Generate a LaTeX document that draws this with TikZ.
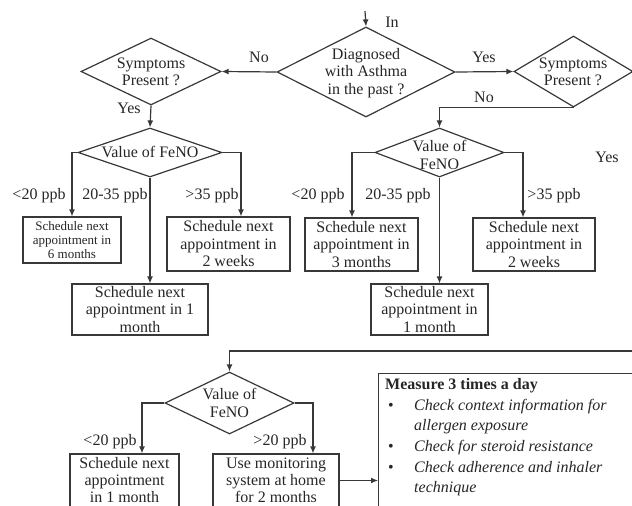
\documentclass[tikz,border=0pt]{standalone}
\usepackage{fontspec}
\setmainfont{Liberation Serif}
\usetikzlibrary{shapes.geometric,arrows.meta}
\begin{document}
\begin{tikzpicture}[x=1pt,y=-1pt,
  line/.style={draw=black!78, line width=1.2pt},
  arr/.style={line, -{Latex[length=7pt,width=6pt]}},
  dia/.style={diamond, draw=black!78, line width=1.2pt, inner sep=0pt},
  box/.style={rectangle, draw=black!78, line width=1.2pt, inner sep=0pt, align=center, text=black!85, font=\fontsize{16}{17.5}\selectfont},
  sbox/.style={box, font=\fontsize{13}{14.3}\selectfont},
  lbl/.style={inner sep=0pt, text=black!85, font=\fontsize{16}{18}\selectfont},
  dtxt/.style={inner sep=0pt, align=center, text=black!85, font=\fontsize{16}{17.5}\selectfont}
]
\useasboundingbox (0,0) rectangle (632,506);
\clip (0,0) rectangle (632,506);

% ---------- top decision ----------
\coordinate (in) at (365,11);
\node[dia, minimum width=178, minimum height=90] (diag) at (366,72) {};
\node[dtxt] (diagT) at (366,73) {Diagnosed\\with Asthma\\in the past ?};
\node[lbl] (inL) at (392,22) {In};

\node[dia, minimum width=140, minimum height=67] (symL) at (151,71.5) {};
\node[dtxt] (symLT) at (151,72) {Symptoms\\Present ?};
\node[dia, minimum width=119, minimum height=71] (symR) at (573.5,71.5) {};
\node[dtxt] (symRT) at (573,72) {Symptoms\\Present ?};

\draw[arr] (in) -- (diag.north);
\draw[arr] (diag.west) -- (symL.east);
\draw[arr] (diag.east) -- (symR.west);
\node[lbl] (noL) at (259,57) {No};
\node[lbl] (yesT) at (484,57) {Yes};
\node[lbl] (yesL) at (129,108) {Yes};
\node[lbl] (noR) at (484,97) {No};
\node[lbl] (yesR) at (607,157) {Yes};

% ---------- left branch ----------
\node[dia, minimum width=144, minimum height=49] (fenoL) at (150,152.5) {};
\node[dtxt] (fenoLT) at (150,152) {Value of FeNO};
\draw[arr] (symL.south) -- (fenoL.north);

\node[sbox, minimum width=98, minimum height=46] (b6m) at (72,240) {Schedule next\\appointment in\\6 months};
\node[box, minimum width=123, minimum height=54] (b2wL) at (228.5,244) {Schedule next\\appointment in\\2 weeks};
\node[box, minimum width=136, minimum height=51] (b1mL) at (140,309.5) {Schedule next\\appointment in 1\\month};

\draw[arr] (fenoL.west) -| (b6m.north);
\draw[arr] (fenoL.east) -| ([xshift=12.5pt]b2wL.north);
\draw[arr] (fenoL.south) -- (fenoL.south |- b1mL.north);
\node[lbl] (l1) at (39,196) {<20 ppb};
\node[lbl] (l2) at (115,196) {20-35 ppb};
\node[lbl] (l3) at (212,196) {>35 ppb};

% ---------- right branch ----------
\node[dia, minimum width=129, minimum height=49] (fenoR) at (439.5,152.5) {};
\node[dtxt] (fenoRT) at (439.5,155) {Value of\\FeNO};
\draw[arr] (symR.south) -| (fenoR.north);

\node[box, minimum width=113, minimum height=53] (b3m) at (361.5,244.5) {Schedule next\\appointment in\\3 months};
\node[box, minimum width=122, minimum height=53] (b2wR) at (534,244.5) {Schedule next\\appointment in\\2 weeks};
\node[box, minimum width=117, minimum height=51] (b1mR) at (429.5,309.5) {Schedule next\\appointment in\\1 month};

\draw[arr] (fenoR.west) -| ([xshift=-9.5pt]b3m.north);
\draw[arr] (fenoR.east) -| ([xshift=-11pt]b2wR.north);
\draw[arr] (fenoR.south) -- (fenoR.south |- b1mR.north);
\node[lbl] (r1) at (318,196) {<20 ppb};
\node[lbl] (r2) at (398,196) {20-35 ppb};
\node[lbl] (r3) at (554,196) {>35 ppb};

% ---------- bottom ----------
\coordinate (loop) at (640,351);
\node[dia, minimum width=129, minimum height=62] (fenoB) at (229.5,403) {};
\node[dtxt] (fenoBT) at (229.5,403) {Value of\\FeNO};
\draw[arr] (loop) -| (fenoB.north);

\node[box, minimum width=109, minimum height=64] (bl) at (124.5,486) {};
\node[dtxt, font=\fontsize{16}{17}\selectfont] (blT) at (124.5,480.5) {Schedule next\\appointment\\in 1 month};
\node[box, minimum width=126, minimum height=64] (br) at (276,486) {};
\node[dtxt, font=\fontsize{16}{17}\selectfont] (brT) at (276,480.5) {Use monitoring\\system at home\\for 2 months};
\node[lbl] (b1) at (110,442) {<20 ppb};
\node[lbl] (b2) at (280,442) {>20 ppb};
\draw[arr] (fenoB.west) -| ([xshift=17.5pt]bl.north);
\draw[arr] (fenoB.east) -| ([xshift=37pt]br.north);

\node[rectangle, draw=black!78, line width=1.2pt, minimum width=280, minimum height=160, anchor=north west, inner sep=0pt] (big) at (378,373) {};
\node[anchor=north west, inner sep=0pt, align=left, text=black!85, font=\fontsize{16}{20.7}\selectfont] (bigT) at (385,378)
 {\textbf{Measure 3 times a day}\\
  \makebox[29pt][l]{\hspace{3pt}\textbullet}\textit{Check context information for}\\
  \hspace*{29pt}\textit{allergen exposure}\\
  \makebox[29pt][l]{\hspace{3pt}\textbullet}\textit{Check for steroid resistance}\\
  \makebox[29pt][l]{\hspace{3pt}\textbullet}\textit{Check adherence and inhaler}\\
  \hspace*{29pt}\textit{technique}};
\draw[arr] (brT.east -| br.east) -- (brT.east -| big.west);
\end{tikzpicture}
\end{document}
